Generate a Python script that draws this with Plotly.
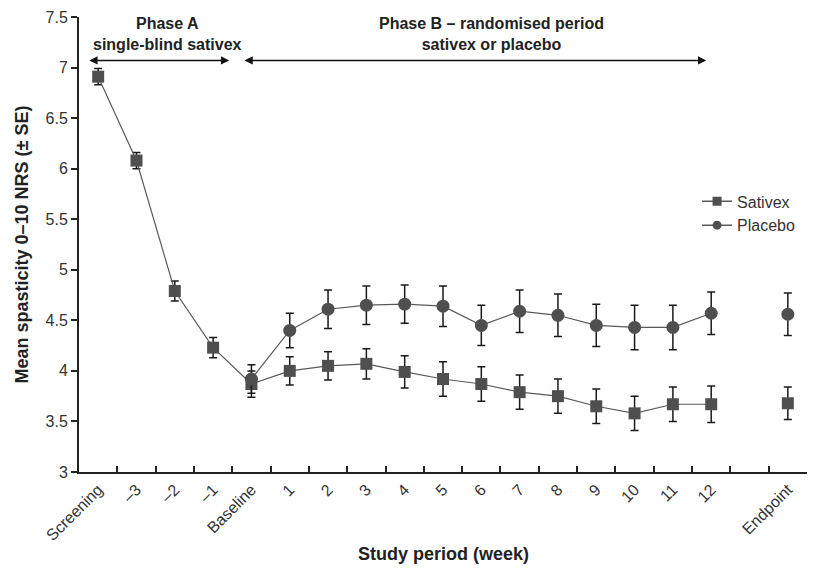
import plotly.graph_objects as go

categories = ["Screening", "\u20133", "\u20132", "\u20131", "Baseline",
              "1", "2", "3", "4", "5", "6", "7", "8", "9", "10", "11", "12",
              " ", "Endpoint"]

sativex_mean = [6.91, 6.08, 4.79, 4.23, 3.87, 4.00, 4.05, 4.07, 3.99, 3.92,
                3.87, 3.79, 3.75, 3.65, 3.58, 3.67, 3.67, None, 3.68]
sativex_se = [0.08, 0.08, 0.10, 0.10, 0.13, 0.14, 0.14, 0.15, 0.16, 0.17,
              0.17, 0.17, 0.17, 0.17, 0.17, 0.17, 0.18, None, 0.16]

placebo_mean = [None, None, None, None, 3.92, 4.40, 4.61, 4.65, 4.66, 4.64,
                4.45, 4.59, 4.55, 4.45, 4.43, 4.43, 4.57, None, 4.56]
placebo_se = [None, None, None, None, 0.14, 0.17, 0.19, 0.19, 0.19, 0.20,
              0.20, 0.21, 0.21, 0.21, 0.22, 0.22, 0.21, None, 0.21]

FONT = "Liberation Sans, Arial, sans-serif"
MARK = "#4f4f4f"
LINE = "#5a5a5a"
ERR = "#1a1a1a"

fig = go.Figure()
fig.add_trace(go.Scatter(
    x=categories, y=sativex_mean, name="Sativex", mode="lines+markers",
    line=dict(color=LINE, width=1.2),
    marker=dict(symbol="square", size=12, color=MARK),
    error_y=dict(type="data", array=sativex_se, visible=True,
                 color=ERR, thickness=1.5, width=4),
    connectgaps=False, cliponaxis=False, showlegend=False))
fig.add_trace(go.Scatter(
    x=categories, y=placebo_mean, name="Placebo", mode="lines+markers",
    line=dict(color=LINE, width=1.2),
    marker=dict(symbol="circle", size=13, color=MARK),
    error_y=dict(type="data", array=placebo_se, visible=True,
                 color=ERR, thickness=1.5, width=4),
    connectgaps=False, cliponaxis=False, showlegend=False))

# legend-only entries with smaller symbols
for name, sym in [("Sativex", "square"), ("Placebo", "circle")]:
    fig.add_trace(go.Scatter(
        x=[None], y=[None], name=name, mode="lines+markers",
        line=dict(color=LINE, width=1.5),
        marker=dict(symbol=sym, size=9, color=MARK)))

# phase arrows
arrow_y = 7.07
for x0, x1 in [(-0.27, 3.42), (3.78, 15.87)]:
    fig.add_annotation(x=x1, y=arrow_y, ax=x0, ay=arrow_y,
                       xref="x", yref="y", axref="x", ayref="y",
                       text="", showarrow=True, arrowhead=2,
                       arrowside="end+start", arrowsize=1.1,
                       arrowwidth=1.5, arrowcolor="#111")

fig.add_annotation(x=1.8, y=7.33, xref="x", yref="y",
                   text="<b>Phase A</b><br><b>single-blind sativex</b>",
                   showarrow=False, font=dict(family=FONT, size=16, color="#222"))
fig.add_annotation(x=10.26, y=7.33, xref="x", yref="y",
                   text="<b>Phase B \u2013 randomised period</b><br><b>sativex or placebo</b>",
                   showarrow=False, font=dict(family=FONT, size=16, color="#222"))
fig.add_annotation(x=18.98, y=4.17, xref="x", yref="y",
                   text="<i>P</i> = 0.0002", showarrow=False,
                   font=dict(family=FONT, size=16, color="#222"))
# x-axis title
fig.add_annotation(x=0.5, y=-0.181, xref="paper", yref="paper",
                   xanchor="center", yanchor="middle",
                   text="<b>Study period (week)</b>", showarrow=False,
                   font=dict(family=FONT, size=18, color="#222"))

fig.update_layout(
    width=821, height=560,
    margin=dict(l=71, r=22, t=9, b=96, autoexpand=False),
    paper_bgcolor="white", plot_bgcolor="white",
    font=dict(family=FONT, size=16, color="#333"),
    showlegend=True,
    legend=dict(x=0.849, y=0.632, xanchor="left", yanchor="top",
                bgcolor="rgba(0,0,0,0)", font=dict(family=FONT, size=16, color="#333"),
                tracegroupgap=0, itemwidth=30),
    xaxis=dict(type="category", categoryorder="array", categoryarray=categories,
               range=[-0.5, 18.5], showgrid=False, zeroline=False,
               showline=True, linecolor="#222", linewidth=2,
               ticks="inside", tickson="boundaries", ticklen=6, tickwidth=2,
               tickcolor="#222", tickangle=-45,
               tickfont=dict(family=FONT, size=16, color="#333")),
    yaxis=dict(range=[3, 7.5], dtick=0.5, tick0=3, showgrid=False,
               zeroline=False, showline=True, linecolor="#222", linewidth=2,
               ticks="outside", ticklen=6, tickwidth=2, tickcolor="#222",
               tickfont=dict(family=FONT, size=16, color="#333"),
               title=dict(text="<b>Mean spasticity 0\u201310 NRS (\u00b1 SE)</b>",
                          standoff=12,
                          font=dict(family=FONT, size=18, color="#222"))),
)

fig.write_html("out.html")
